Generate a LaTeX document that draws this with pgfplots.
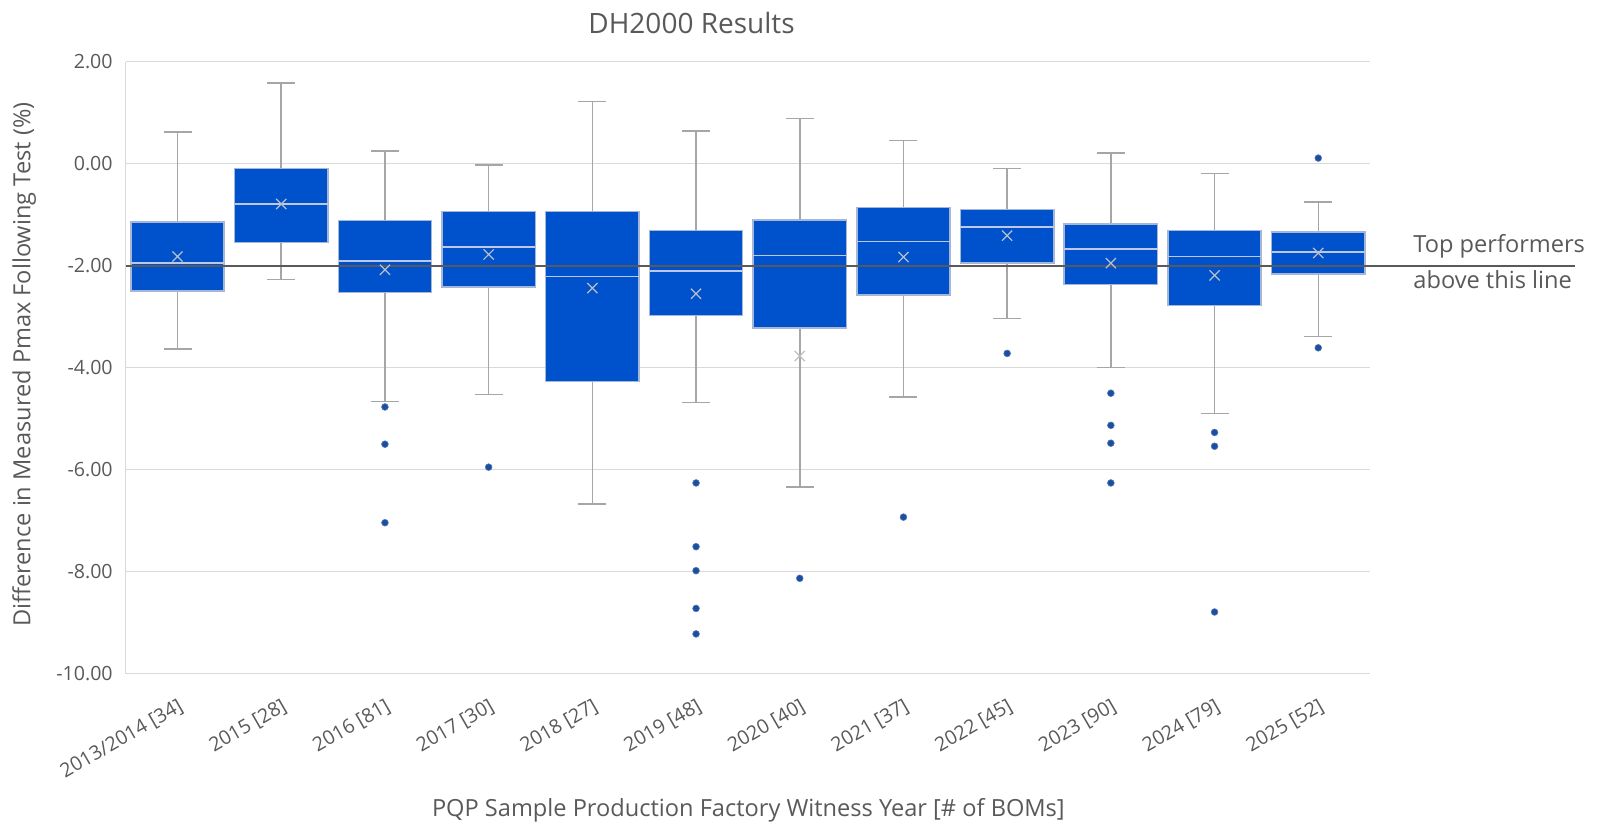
\documentclass[border=0pt]{standalone}
\usepackage{fontspec}
\setmainfont{Open Sans}
\usepackage{pgfplots}
\pgfplotsset{compat=1.18}
\usepgfplotslibrary{statistics}

\definecolor{boxblue}{RGB}{0,82,204}
\definecolor{boxedge}{RGB}{165,182,215}
\definecolor{whisk}{RGB}{166,166,166}
\definecolor{medline}{RGB}{190,200,228}
\definecolor{meanx}{RGB}{188,190,200}
\definecolor{outl}{RGB}{28,78,160}
\definecolor{txt}{RGB}{89,89,89}
\definecolor{gridc}{RGB}{217,217,217}

\pgfplotsset{
  bx/.style={
    solid, draw=boxedge, line width=0.75bp,
    mark=*, mark size=1.7bp,
    mark options={fill=outl, draw=outl!75!white, line width=0.3bp},
    boxplot/draw direction=y,
    boxplot/box extend=0.9,
    boxplot/whisker extend=0.27,
    boxplot/every box/.style={draw=boxedge, fill=boxblue},
    boxplot/every whisker/.style={draw=whisk},
    boxplot/every median/.style={draw=medline},
  },
}

\begin{document}
\begin{tikzpicture}
\begin{axis}[
    at={(0,0)}, anchor=south west,
    scale only axis,
    width=622.2bp, height=306bp,
    xmin=-0.5, xmax=11.5,
    ymin=-10, ymax=2,
    clip=false,
    axis x line*=bottom, axis y line*=left,
    axis line style={gridc, line width=0.75bp},
    ymajorgrids, grid style={gridc, line width=0.75bp},
    major tick length=0,
    xtick={0,...,11},
    xticklabels={2013/2014 [34], 2015 [28], 2016 [81], 2017 [30], 2018 [27], 2019 [48],
                 2020 [40], 2021 [37], 2022 [45], 2023 [90], 2024 [79], 2025 [52]},
    ytick={-10,-8,-6,-4,-2,0,2},
    yticklabels={-10.00,-8.00,-6.00,-4.00,-2.00,0.00,2.00},
    xticklabel style={rotate=30, anchor=north east, font=\fontsize{9.8bp}{11bp}\selectfont, text=txt, inner sep=1bp, yshift=-9bp, xshift=-5bp},
    yticklabel style={font=\fontsize{9.8bp}{11bp}\selectfont, text=txt, xshift=-3bp},
]
% 2013/2014
\addplot[bx, boxplot prepared={draw position=0, lower whisker=-3.63, lower quartile=-2.50,
  median=-1.95, upper quartile=-1.14, upper whisker=0.62}] coordinates {};
% 2015
\addplot[bx, boxplot prepared={draw position=1, lower whisker=-2.27, lower quartile=-1.55,
  median=-0.79, upper quartile=-0.09, upper whisker=1.58}] coordinates {};
% 2016
\addplot[bx, boxplot prepared={draw position=2, lower whisker=-4.66, lower quartile=-2.53,
  median=-1.91, upper quartile=-1.11, upper whisker=0.25}]
  coordinates {(0,-4.77) (0,-5.50) (0,-7.04)};
% 2017
\addplot[bx, boxplot prepared={draw position=3, lower whisker=-4.53, lower quartile=-2.42,
  median=-1.63, upper quartile=-0.94, upper whisker=-0.03}]
  coordinates {(0,-5.95)};
% 2018
\addplot[bx, boxplot prepared={draw position=4, lower whisker=-6.67, lower quartile=-4.27,
  median=-2.21, upper quartile=-0.94, upper whisker=1.22}] coordinates {};
% 2019
\addplot[bx, boxplot prepared={draw position=5, lower whisker=-4.68, lower quartile=-2.98,
  median=-2.10, upper quartile=-1.31, upper whisker=0.64}]
  coordinates {(0,-6.26) (0,-7.51) (0,-7.98) (0,-8.72) (0,-9.22)};
% 2020
\addplot[bx, boxplot prepared={draw position=6, lower whisker=-6.34, lower quartile=-3.22,
  median=-1.80, upper quartile=-1.10, upper whisker=0.89}]
  coordinates {(0,-8.13)};
% 2021
\addplot[bx, boxplot prepared={draw position=7, lower whisker=-4.57, lower quartile=-2.57,
  median=-1.53, upper quartile=-0.86, upper whisker=0.45}]
  coordinates {(0,-6.93)};
% 2022
\addplot[bx, boxplot prepared={draw position=8, lower whisker=-3.04, lower quartile=-1.95,
  median=-1.24, upper quartile=-0.90, upper whisker=-0.09}]
  coordinates {(0,-3.72)};
% 2023
\addplot[bx, boxplot prepared={draw position=9, lower whisker=-4.00, lower quartile=-2.37,
  median=-1.67, upper quartile=-1.18, upper whisker=0.21}]
  coordinates {(0,-4.50) (0,-5.13) (0,-5.48) (0,-6.26)};
% 2024
\addplot[bx, boxplot prepared={draw position=10, lower whisker=-4.90, lower quartile=-2.78,
  median=-1.82, upper quartile=-1.31, upper whisker=-0.19}]
  coordinates {(0,-5.27) (0,-5.54) (0,-8.79)};
% 2025
\addplot[bx, boxplot prepared={draw position=11, lower whisker=-3.39, lower quartile=-2.16,
  median=-1.73, upper quartile=-1.34, upper whisker=-0.75}]
  coordinates {(0,0.11) (0,-3.61)};

% threshold line
\addplot[txt, line width=1bp, forget plot] coordinates {(-0.5,-2) (13.48,-2)};

% means
\addplot[only marks, mark=x, mark size=3.6bp, meanx, line width=0.6bp] coordinates {
  (0,-1.82) (1,-0.79) (2,-2.08) (3,-1.78) (4,-2.44) (5,-2.55)
  (6,-3.77) (7,-1.83) (8,-1.41) (9,-1.95) (10,-2.19) (11,-1.75)
};

\node[anchor=west, text=txt, font=\fontsize{11.8bp}{13bp}\selectfont] at (axis cs:11.85,-1.62) {Top performers};
\node[anchor=west, text=txt, font=\fontsize{11.8bp}{13bp}\selectfont] at (axis cs:11.85,-2.28) {above this line};

\node[text=txt, font=\fontsize{14bp}{16bp}\selectfont] at (rel axis cs:0.4547,1.063) {DH2000 Results};
\node[text=txt, font=\fontsize{11.8bp}{13bp}\selectfont] at (rel axis cs:0.5004,-0.2226) {PQP Sample Production Factory Witness Year [\# of BOMs]};
\node[text=txt, rotate=90, font=\fontsize{11.8bp}{13bp}\selectfont] at (rel axis cs:-0.0816,0.505) {Difference in Measured Pmax Following Test (\%)};
\end{axis}
\pgfresetboundingbox
\path[use as bounding box] (-62.85bp,-79.65bp) rectangle (736.15bp,336.85bp);
\end{tikzpicture}
\end{document}
